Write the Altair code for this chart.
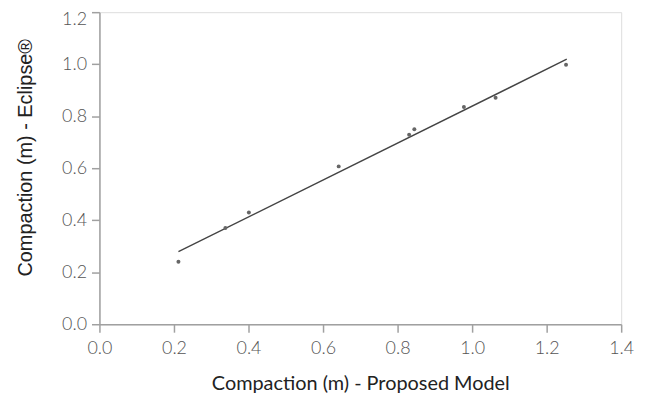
import altair as alt
import pandas as pd

# Scatter data (Proposed Model vs Eclipse)
proposed = [0.212, 0.338, 0.401, 0.642, 0.831, 0.845, 0.978, 1.063, 1.252]
eclipse = [0.240, 0.370, 0.430, 0.607, 0.729, 0.750, 0.835, 0.871, 0.998]

# Fitted line endpoints
line_x = [0.212, 1.254]
line_y = [0.279, 1.019]

tick_vals = [0.0, 0.2, 0.4, 0.6, 0.8, 1.0, 1.2, 1.4]
ytick_vals = [0.0, 0.2, 0.4, 0.6, 0.8, 1.0, 1.2]

pts = pd.DataFrame({"x": proposed, "y": eclipse})
ln = pd.DataFrame({"x": line_x, "y": line_y})

xscale = alt.Scale(domain=[0, 1.4], nice=False, zero=False)
yscale = alt.Scale(domain=[0, 1.2], nice=False, zero=False)

label_font = "Lato"

xaxis = alt.Axis(
    title="Compaction (m) - Proposed Model",
    values=tick_vals, format=".1f", grid=False, labelFlush=False,
    domainColor="#a0a0a0", domainWidth=1.5, tickColor="#a0a0a0", tickWidth=1.5, tickSize=8,
    labelFont=label_font, labelFontSize=18, labelFontWeight=300, labelColor="#555555", labelPadding=7,
    titleFont=label_font, titleFontSize=20, titleFontWeight="normal", titleColor="#222222", titlePadding=17,
)
yaxis = alt.Axis(
    title="Compaction (m) - Eclipse®",
    values=ytick_vals, format=".1f", grid=False, labelFlush=False,
    labelOffset={"condition": {"test": "datum.value >= 1.19", "value": 7}, "value": 0},
    domainColor="#a0a0a0", domainWidth=1.5, tickColor="#a0a0a0", tickWidth=1.5, tickSize=8,
    labelFont=label_font, labelFontSize=18, labelFontWeight=300, labelColor="#555555", labelPadding=5,
    titleFont="Liberation Sans", titleFontSize=20, titleFontWeight="normal", titleColor="#222222", titlePadding=26,
    titleY=146,
)

points = alt.Chart(pts).mark_circle(size=16, color="#666666", opacity=1).encode(
    x=alt.X("x:Q", scale=xscale, axis=xaxis),
    y=alt.Y("y:Q", scale=yscale, axis=yaxis),
)
line = alt.Chart(ln).mark_line(color="#444444", strokeWidth=1.4).encode(
    x=alt.X("x:Q", scale=xscale),
    y=alt.Y("y:Q", scale=yscale),
)

chart = alt.layer(line, points).properties(
    width=525, height=314,
    padding={"left": 92, "top": 3, "right": 30, "bottom": 70},
    autosize=alt.AutoSizeParams(type="none"),
).configure_view(stroke=None).configure(background="white")

chart.save("out.html", embed_options={"renderer": "svg", "actions": False})
